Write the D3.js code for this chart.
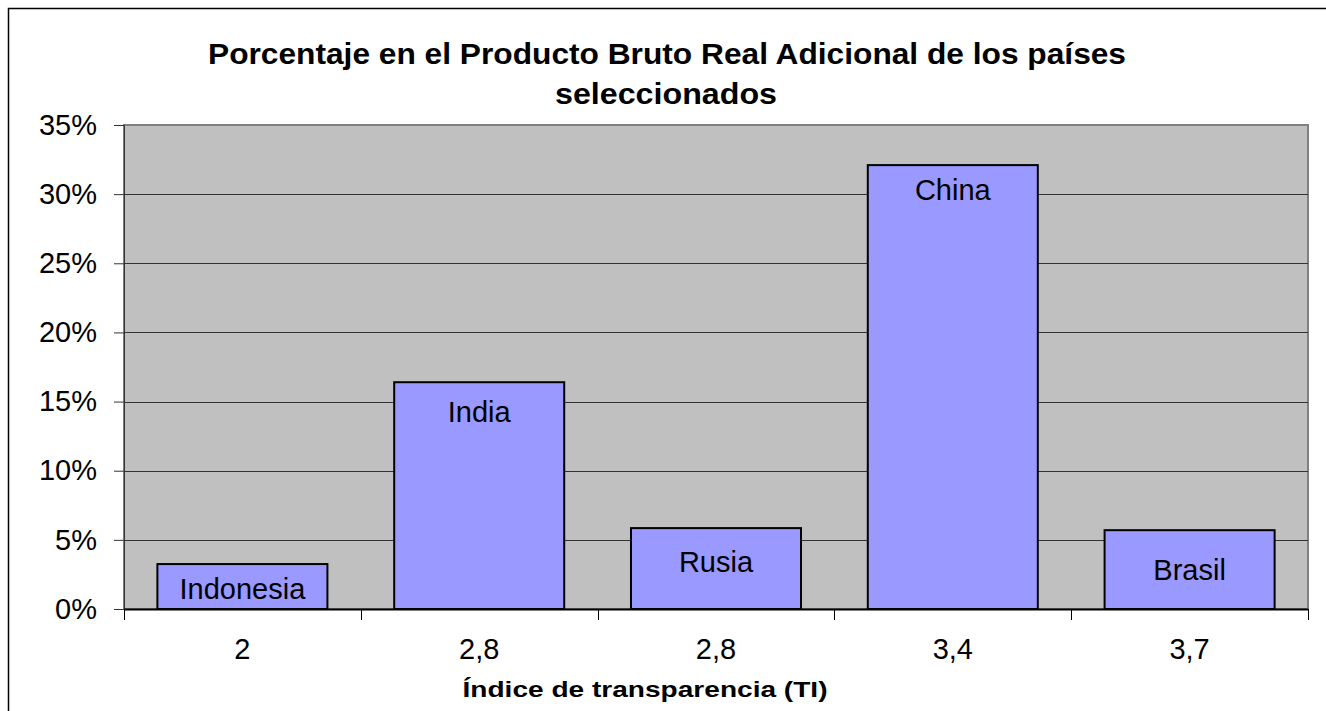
<!DOCTYPE html>
<html><head><meta charset="utf-8">
<script src="https://cdn.jsdelivr.net/npm/d3@7"></script>
<style>body{margin:0;background:#fff;} svg{display:block;font-family:Arial,"Liberation Sans",sans-serif;}</style>
</head><body>
<svg id="c" width="1326" height="711"></svg>
<script>
const categories = ["2", "2,8", "2,8 ", "3,4", "3,7"];
const countries = ["Indonesia", "India", "Rusia", "China", "Brasil"];
const values = [0.0325, 0.164, 0.0585, 0.321, 0.057];
const yTicks = [0, 0.05, 0.10, 0.15, 0.20, 0.25, 0.30, 0.35];
const labelOffsets = [25, 30, 34, 25, 40];

const svg = d3.select("#c");
const m = {left:124, right:1308, top:125, bottom:609};

svg.append("rect").attr("x",8.5).attr("y",8.5).attr("width",1340).attr("height",720)
  .attr("fill","#fff").attr("stroke","#000").attr("stroke-width",1.5);

const x = d3.scaleBand().domain(d3.range(categories.length)).range([m.left,m.right]).paddingInner(0.282).paddingOuter(0.141);
const y = d3.scaleLinear().domain([0,0.35]).range([m.bottom,m.top]);

svg.append("rect").attr("x",m.left).attr("y",m.top).attr("width",m.right-m.left).attr("height",m.bottom-m.top)
  .attr("fill","#C0C0C0").attr("stroke","#808080").attr("stroke-width",2);

svg.append("g").selectAll("line").data(yTicks.slice(1,-1)).join("line")
  .attr("x1",m.left).attr("x2",m.right).attr("y1",d=>Math.round(y(d))+0.5).attr("y2",d=>Math.round(y(d))+0.5)
  .attr("stroke","#333").attr("stroke-width",1);

// y axis
const ya = svg.append("g").attr("transform",`translate(${m.left},0)`)
  .call(d3.axisLeft(y).tickValues(yTicks).tickFormat(d3.format(".0%")).tickSize(10).tickPadding(17));
ya.select(".domain").attr("stroke","#333");
ya.selectAll(".tick line").attr("stroke","#333");
ya.selectAll("text").attr("font-size","29px").attr("fill","#000").attr("font-family","Arial,'Liberation Sans',sans-serif");

// bars
svg.append("g").selectAll("rect").data(values).join("rect")
  .attr("x",(d,i)=>x(i)).attr("width",x.bandwidth())
  .attr("y",d=>y(d)).attr("height",d=>y(0)-y(d))
  .attr("fill","#9999FF").attr("stroke","#000").attr("stroke-width",2);

svg.append("g").selectAll("text").data(values).join("text")
  .attr("x",(d,i)=>x(i)+x.bandwidth()/2).attr("y",(d,i)=>y(d)+labelOffsets[i])
  .attr("dy","0.35em").attr("text-anchor","middle").attr("font-size","29px").attr("fill","#000")
  .text((d,i)=>countries[i]);

// x axis
const xb = d3.scaleLinear().domain([0,categories.length]).range([m.left,m.right]);
const xa = svg.append("g").attr("transform",`translate(0,${m.bottom})`);
xa.append("line").attr("x1",m.left).attr("x2",m.right).attr("y1",0.5).attr("y2",0.5).attr("stroke","#000").attr("stroke-width",2);
xa.selectAll("line.t").data(d3.range(categories.length+1)).join("line").attr("class","t")
  .attr("x1",d=>Math.round(xb(d))+0.5).attr("x2",d=>Math.round(xb(d))+0.5).attr("y1",0).attr("y2",11).attr("stroke","#000");
xa.selectAll("text").data(categories).join("text")
  .attr("x",(d,i)=>x(i)+x.bandwidth()/2).attr("y",40).attr("dy","0.35em")
  .attr("text-anchor","middle").attr("font-size","29px").text(d=>d.trim());

// titles
svg.append("text").attr("x",667).attr("y",53).attr("dy","0.35em").attr("text-anchor","middle")
  .attr("font-size","30px").attr("font-weight","bold")
  .attr("textLength",918).attr("lengthAdjust","spacingAndGlyphs")
  .text("Porcentaje en el Producto Bruto Real Adicional de los países");
svg.append("text").attr("x",666).attr("y",93).attr("dy","0.35em").attr("text-anchor","middle")
  .attr("font-size","30px").attr("font-weight","bold")
  .attr("textLength",222).attr("lengthAdjust","spacingAndGlyphs")
  .text("seleccionados");
svg.append("text").attr("x",645).attr("y",689).attr("dy","0.35em").attr("text-anchor","middle")
  .attr("font-size","22px").attr("font-weight","bold")
  .attr("textLength",365).attr("lengthAdjust","spacingAndGlyphs")
  .text("Índice de transparencia (TI)");
</script>
</body></html>
